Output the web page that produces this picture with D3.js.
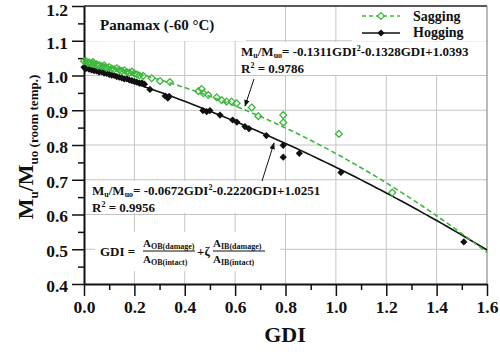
<!DOCTYPE html>
<html><head><meta charset="utf-8">
<script src="https://cdn.jsdelivr.net/npm/d3@7"></script>
<style>
body{margin:0;background:#fff}
text{font-family:"Liberation Serif","Times New Roman",serif;font-weight:bold;fill:#111}
</style></head>
<body><svg id="c" width="500" height="354"></svg>
<script>
// ---- data ----
const xTicks = [0.0,0.2,0.4,0.6,0.8,1.0,1.2,1.4,1.6];
const xMinor = [0.1,0.3,0.5,0.7,0.9,1.1,1.3,1.5];
const yTicks = [0.4,0.5,0.6,0.7,0.8,0.9,1.0,1.1,1.2];
const yMinor = [0.45,0.55,0.65,0.75,0.85,0.95,1.05,1.15];

const saggingGDI = [0.00,0.01,0.015,0.02,0.03,0.035,0.04,0.05,0.055,0.06,0.07,0.08,0.085,0.09,0.10,0.11,0.12,0.13,0.14,0.15,0.16,0.17,0.18,0.19,0.20,0.21,0.22,0.235,
  0.269,0.302,0.341,0.454,0.467,0.474,0.493,0.527,0.547,0.566,0.586,0.606,0.666,0.692,0.791,0.791,1.012,1.224];
const saggingM = [1.041,1.040,1.036,1.038,1.035,1.039,1.033,1.032,1.028,1.030,1.027,1.029,1.024,1.022,1.024,1.020,1.018,1.021,1.016,1.013,1.015,1.010,1.008,1.011,1.006,1.003,1.000,0.999,
  0.992,0.984,0.981,0.955,0.961,0.949,0.944,0.937,0.929,0.925,0.925,0.920,0.908,0.883,0.886,0.865,0.832,0.663];

const hoggingGDI = [0.00,0.005,0.01,0.02,0.03,0.04,0.05,0.06,0.07,0.08,0.09,0.10,0.11,0.12,0.13,0.14,0.15,0.16,0.17,0.18,0.19,0.20,0.21,0.22,0.23,0.24,
  0.262,0.322,0.333,0.338,0.472,0.487,0.50,0.54,0.59,0.607,0.639,0.655,0.724,0.791,0.791,0.855,1.020,1.508];
const hoggingM = [1.024,1.020,1.021,1.018,1.016,1.014,1.013,1.010,1.011,1.007,1.006,1.003,1.001,1.000,0.997,0.995,0.993,0.990,0.991,0.987,0.985,0.983,0.981,0.978,0.979,0.975,
  0.960,0.941,0.935,0.940,0.899,0.896,0.899,0.886,0.872,0.866,0.853,0.847,0.827,0.799,0.765,0.776,0.721,0.521];

// fit coefficients [a, b, c] for a*GDI^2 + b*GDI + c (as printed on the chart)
const saggingFit = [-0.1311,-0.1328,1.0393];
const hoggingFit = [-0.0672,-0.2220,1.0251];

const green = "#3cb83c";
const svg = d3.select("#c");
const x = d3.scaleLinear([0,1.6],[84,487]);
const y = d3.scaleLinear([0.4,1.2],[284,6]);

// grid
const grid = svg.append("g").attr("stroke","#c4c4c4").attr("stroke-width",1);
grid.selectAll("line.v").data(xTicks.slice(1,-1)).join("line")
  .attr("x1",d=>x(d)).attr("x2",d=>x(d)).attr("y1",y(1.2)).attr("y2",y(0.4));
grid.selectAll("line.h").data(yTicks.slice(1,-1)).join("line")
  .attr("y1",d=>y(d)).attr("y2",d=>y(d)).attr("x1",x(0)).attr("x2",x(1.6));

// white text boxes covering grid
const boxes = [[84,7,246,41],[352,7,486,41],[238,42,486,75],[88,181,334,213],[95,232,280,271]];
svg.append("g").selectAll("rect").data(boxes).join("rect")
  .attr("x",d=>d[0]).attr("y",d=>d[1]).attr("width",d=>d[2]-d[0]).attr("height",d=>d[3]-d[1]).attr("fill","#fff");

// frame top/right
svg.append("line").attr("x1",x(0)).attr("x2",x(1.6)).attr("y1",y(1.2)).attr("y2",y(1.2)).attr("stroke","#222").attr("stroke-width",1.5);
svg.append("line").attr("x1",x(1.6)).attr("x2",x(1.6)).attr("y1",y(1.2)).attr("y2",y(0.4)).attr("stroke","#777").attr("stroke-width",1);

// axes
const fmt = d3.format(".1f");
svg.append("g").attr("transform",`translate(0,${y(0.4)})`)
  .call(d3.axisBottom(x).tickValues(xTicks).tickFormat(fmt).tickSize(12).tickSizeOuter(0).tickPadding(5));
svg.append("g").attr("transform",`translate(0,${y(0.4)})`)
  .call(d3.axisBottom(x).tickValues(xMinor).tickFormat("").tickSize(6).tickSizeOuter(0)).select(".domain").remove();
const gy = svg.append("g").attr("transform",`translate(${x(0)},0)`)
  .call(d3.axisLeft(y).tickValues(yTicks).tickFormat(fmt).tickSize(12).tickSizeOuter(0).tickPadding(4));
svg.append("g").attr("transform",`translate(${x(0)},0)`)
  .call(d3.axisLeft(y).tickValues(yMinor).tickFormat("").tickSize(6).tickSizeOuter(0)).select(".domain").remove();
svg.selectAll(".tick line").attr("stroke","#111").attr("stroke-width",1.5);
svg.selectAll(".domain").attr("stroke","#111").attr("stroke-width",2);
svg.selectAll(".tick text").attr("font-family","Liberation Serif").attr("font-weight","bold").attr("font-size",17.5).attr("fill","#111");
gy.selectAll(".tick text").attr("dy",d => d === 1.2 ? "0.55em" : "0.42em");

// fit curves
const xs = d3.range(0,1.6001,0.02);
const fitLine = c => d3.line().x(d=>x(d)).y(d=>y(c[0]*d*d+c[1]*d+c[2]))(xs);
svg.append("path").attr("d",fitLine(hoggingFit)).attr("fill","none").attr("stroke","#111").attr("stroke-width",1.6);
svg.append("path").attr("d",fitLine(saggingFit)).attr("fill","none").attr("stroke",green).attr("stroke-width",1.6).attr("stroke-dasharray","5,3");

// markers
const diamond = r => `M0,${-r}L${r},0L0,${r}L${-r},0Z`;
svg.append("g").selectAll("path").data(hoggingGDI.map((g,i)=>[g,hoggingM[i]])).join("path")
  .attr("d",diamond(3.6)).attr("transform",d=>`translate(${x(d[0])},${y(d[1])})`).attr("fill","#111");
svg.append("g").selectAll("path").data(saggingGDI.map((g,i)=>[g,saggingM[i]])).join("path")
  .attr("d",diamond(3.4)).attr("transform",d=>`translate(${x(d[0])},${y(d[1])})`).attr("fill","none").attr("stroke",green).attr("stroke-width",1.3);

// legend
svg.append("line").attr("x1",362).attr("x2",400).attr("y1",16).attr("y2",16).attr("stroke",green).attr("stroke-width",1.5).attr("stroke-dasharray","4,3");
svg.append("path").attr("d",diamond(3.4)).attr("transform","translate(381,16)").attr("fill","#fff").attr("stroke",green).attr("stroke-width",1.3);
svg.append("line").attr("x1",362).attr("x2",400).attr("y1",33).attr("y2",33).attr("stroke","#111").attr("stroke-width",1.6);
svg.append("path").attr("d",diamond(3.6)).attr("transform","translate(381,33)").attr("fill","#111");
svg.append("text").attr("x",413).attr("y",21).attr("font-size",14).text("Sagging");
svg.append("text").attr("x",413).attr("y",37).attr("font-size",14).text("Hogging");

// title
svg.append("text").attr("x",100).attr("y",30).attr("font-size",15).text("Panamax (-60 °C)");

// equations
function eq(x0,y0,coef,r2){
  const t = svg.append("text").attr("x",x0).attr("y",y0).attr("font-size",13);
  t.append("tspan").text("M");
  t.append("tspan").attr("font-size",8).attr("dy",2).text("u");
  t.append("tspan").attr("dy",-2).text("/M");
  t.append("tspan").attr("font-size",8).attr("dy",2).text("uo");
  t.append("tspan").attr("dy",-2).text("= "+coef[0].toFixed(4)+"GDI");
  t.append("tspan").attr("font-size",8).attr("dy",-5).text("2");
  t.append("tspan").attr("dy",5).text(coef[1].toFixed(4)+"GDI+"+coef[2].toFixed(4));
  const t2 = svg.append("text").attr("x",x0).attr("y",y0+17).attr("font-size",13);
  t2.append("tspan").text("R");
  t2.append("tspan").attr("font-size",8).attr("dy",-5).text("2");
  t2.append("tspan").attr("dy",5).text(" = "+r2);
}
eq(241,56,saggingFit,"0.9786");
eq(92,195,hoggingFit,"0.9956");

// arrows
svg.append("defs").append("marker").attr("id","ah").attr("viewBox","0 0 10 10").attr("refX",9).attr("refY",5)
  .attr("markerWidth",7).attr("markerHeight",7).attr("orient","auto")
  .append("path").attr("d","M0,1L10,5L0,9Z").attr("fill","#111");
svg.append("line").attr("x1",254).attr("y1",79).attr("x2",245).attr("y2",106).attr("stroke","#111").attr("stroke-width",1).attr("marker-end","url(#ah)");
svg.append("line").attr("x1",262).attr("y1",181).attr("x2",274).attr("y2",143).attr("stroke","#111").attr("stroke-width",1).attr("marker-end","url(#ah)");

// GDI formula
const f = svg.append("g");
f.append("text").attr("x",100).attr("y",256).attr("font-size",13).text("GDI =");
function frac(x0,num,den,w){
  const n = f.append("text").attr("x",x0).attr("y",247).attr("font-size",11);
  n.append("tspan").text("A");
  n.append("tspan").attr("font-size",8).attr("dy",2).text(num);
  f.append("line").attr("x1",x0).attr("x2",x0+w).attr("y1",251).attr("y2",251).attr("stroke","#111").attr("stroke-width",1);
  const d = f.append("text").attr("x",x0).attr("y",263).attr("font-size",11);
  d.append("tspan").text("A");
  d.append("tspan").attr("font-size",8).attr("dy",2).text(den);
}
frac(143,"OB(damage)","OB(intact)",52);
f.append("text").attr("x",197).attr("y",256).attr("font-size",13).text("+ζ");
frac(213,"IB(damage)","IB(intact)",52);

// axis titles
svg.append("text").attr("x",285).attr("y",342).attr("text-anchor","middle").attr("font-size",22).text("GDI");
const yl = svg.append("text").attr("transform","translate(33,147) rotate(-90)").attr("text-anchor","middle").attr("font-size",22);
yl.append("tspan").text("M");
yl.append("tspan").attr("font-size",13).attr("dy",5).text("u");
yl.append("tspan").attr("dy",-5).text("/M");
yl.append("tspan").attr("font-size",13).attr("dy",5).text("uo (room temp.)");
</script></body></html>
